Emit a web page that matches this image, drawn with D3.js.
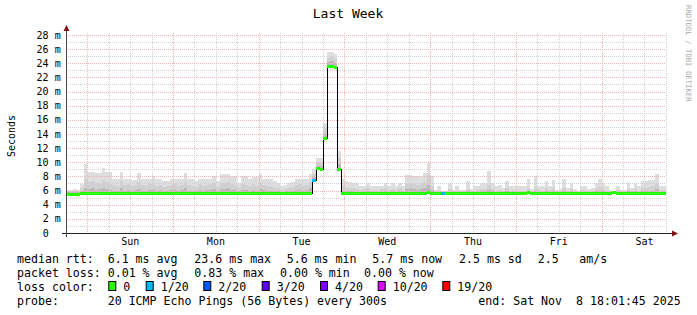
<!doctype html>
<html lang="en">
<head>
<meta charset="utf-8">
<style>
  body { margin: 0; background: #fff; }
  svg { display: block; }
  text { font-family: "DejaVu Sans Mono", monospace; fill: #000; }
</style>
</head>
<body>
<script src="https://d3js.org/d3.v7.min.js"></script>
<script>
// hourly bins, Sat Nov 1 18:01:45 -> Sat Nov 8 18:01:45 (ms)
var medianMs = [
  5.5,5.5,5.5,5.5,5.6,5.6,5.6,5.6,5.6,5.7, 5.6,5.6,5.6,5.6,5.6,5.6,5.6,5.6,5.6,5.6,
  5.6,5.6,5.6,5.6,5.6,5.6,5.6,5.7,5.6,5.6, 5.6,5.6,5.6,5.6,5.6,5.6,5.6,5.7,5.6,5.6,
  5.6,5.6,5.6,5.6,5.6,5.6,5.7,5.6,5.6,5.6, 5.6,5.6,5.6,5.6,5.6,5.6,5.6,5.7,5.7,5.6,
  5.6,5.7,5.7,5.6,5.6,5.6,5.6,5.6,5.6,7.5, 9.2,9.1,13.5,23.6,23.6,23.5,9.0,5.6,5.6,5.6,
  5.6,5.6,5.7,5.6,5.6,5.6,5.6,5.6,5.6,5.6, 5.6,5.6,5.6,5.7,5.6,5.6,5.6,5.6,5.6,5.6,
  5.6,5.8,5.6,5.6,5.6,5.6,5.6,5.6,5.6,5.6, 5.6,5.6,5.6,5.6,5.6,5.6,5.6,5.6,5.6,5.6,
  5.6,5.6,5.6,5.6,5.6,5.6,5.6,5.6,5.6,5.8, 5.6,5.6,5.6,5.6,5.6,5.6,5.6,5.6,5.6,5.6,
  5.6,5.6,5.6,5.6,5.6,5.6,5.6,5.6,5.6,5.6, 5.6,5.6,5.6,5.8,5.6,5.6,5.6,5.6,5.6,5.6,
  5.6,5.6,5.6,5.6,5.6,5.6,5.6,5.6
];
var smokeMax = [
  6.1,6.1,6.2,6.1,6.9,9.8,8.6,8.6,8.5,8.5, 9.2,8.6,8.6,7.7,7.7,8.6,7.7,7.6,7.5,7.5,
  8.5,7.6,7.6,7.6,8.1,7.6,7.6,7.3,7.3,7.6, 7.6,7.7,7.7,8.5,7.6,7.6,7.3,7.7,7.7,7.7,
  7.7,8.1,7.3,8.3,8.3,8.3,8.0,8.0,7.1,8.0, 8.0,7.6,7.9,7.9,8.3,7.7,7.6,7.6,7.3,7.1,
  6.6,6.8,7.0,7.2,7.7,7.7,7.7,7.7,8.3,9.0, 10.6,10.6,15.5,25.6,25.6,25.3,11.6,7.6,7.3,7.2,
  7.1,7.0,6.7,6.7,7.0,6.6,6.6,6.6,6.7,7.1, 6.7,7.0,6.7,7.1,6.6,8.2,8.2,8.1,8.0,8.0,
  8.5,9.9,8.0,6.1,6.6,6.0,6.0,7.1,6.1,6.6, 6.1,6.1,7.3,6.2,6.6,6.6,7.0,7.0,8.8,7.1,
  6.6,6.8,6.4,7.3,6.7,6.7,6.6,6.6,6.6,7.6, 6.2,8.0,6.7,6.7,7.3,6.7,7.5,6.1,6.2,7.6,
  6.4,7.0,6.2,6.0,6.7,6.7,6.2,6.3,7.0,7.6, 7.0,6.6,6.1,6.0,6.7,6.1,6.1,7.0,6.4,7.1,
  6.6,7.3,7.3,7.5,7.5,8.3,6.7,6.7
];
var smokeMid = [
  5.9,5.9,6.0,5.9,6.3,7.6,7.2,7.4,7.0,7.1, 7.5,7.2,6.9,6.8,6.6,7.3,6.8,6.9,6.6,6.8,
  7.2,6.8,6.6,6.9,7.0,6.7,6.8,6.5,6.6,6.8, 6.9,6.7,6.8,7.2,6.8,6.6,6.5,6.9,6.7,6.8,
  6.9,7.0,6.5,7.1,7.0,7.2,6.9,6.8,6.4,6.9, 6.8,6.6,6.9,6.7,7.0,6.8,6.6,6.7,6.4,6.3,
  6.1,6.2,6.3,6.5,6.8,6.9,6.7,6.8,7.2,8.3, 10.0,9.9,14.8,24.8,24.9,24.6,10.6,6.6,6.4,6.3,
  6.3,6.2,6.1,6.2,6.3,6.0,6.1,6.0,6.2,6.3, 6.1,6.2,6.1,6.3,6.0,6.9,7.1,6.9,6.8,7.0,
  7.2,8.2,6.7,5.9,6.0,5.9,5.9,6.2,5.9,6.0, 5.9,5.9,6.2,5.9,6.0,6.1,6.2,6.2,6.8,6.2,
  6.0,6.1,5.9,6.3,6.0,6.1,6.0,6.0,6.0,6.4, 5.9,6.5,6.1,6.0,6.3,6.1,6.4,5.9,5.9,6.4,
  6.0,6.2,5.9,5.8,6.1,6.0,5.9,5.9,6.2,6.5, 6.2,6.0,5.9,5.9,6.1,5.9,5.9,6.2,6.0,6.2,
  6.0,6.3,6.4,6.5,6.6,6.9,6.1,6.1
];
var smokeLow = [
  5.8,5.8,5.8,5.8,5.9,6.4,6.2,6.3,6.1,6.2, 6.3,6.2,6.1,6.0,6.0,6.3,6.0,6.1,6.0,6.1,
  6.2,6.0,6.0,6.1,6.2,6.0,6.1,5.9,6.0,6.1, 6.1,6.0,6.1,6.3,6.0,6.0,5.9,6.1,6.0,6.1,
  6.1,6.2,5.9,6.2,6.2,6.3,6.1,6.1,5.9,6.1, 6.1,6.0,6.1,6.0,6.2,6.1,6.0,6.0,5.9,5.9,
  5.8,5.9,5.9,6.0,6.1,6.1,6.0,6.1,6.3,7.9, 9.5,9.5,14.0,24.2,24.3,24.1,9.8,6.0,5.9,5.9,
  5.9,5.8,5.8,5.8,5.9,5.8,5.8,5.8,5.8,5.9, 5.8,5.9,5.8,5.9,5.8,6.2,6.3,6.2,6.1,6.2,
  6.3,6.8,6.1,5.8,5.8,5.8,5.8,5.8,5.8,5.8, 5.8,5.8,5.9,5.8,5.8,5.8,5.9,5.9,6.1,5.9,
  5.8,5.8,5.8,5.9,5.8,5.8,5.8,5.8,5.8,6.0, 5.8,6.0,5.8,5.8,5.9,5.8,5.9,5.8,5.8,5.9,
  5.8,5.9,5.8,5.8,5.8,5.8,5.8,5.8,5.9,6.0, 5.9,5.8,5.8,5.8,5.8,5.8,5.8,5.9,5.8,5.9,
  5.8,5.9,5.9,6.0,6.0,6.2,5.8,5.8
];
// bins with packet loss (count out of 20)
var lossBins = [69, 105];
var lossCount = [1, 1];

var lossSteps = [0, 1, 2, 3, 4, 10, 19];
var lossLabels = ["0", "1/20", "2/20", "3/20", "4/20", "10/20", "19/20"];
var lossColors = ["#26ff00", "#00b8ff", "#0059ff", "#5e00ff", "#7e00ff", "#dd00ff", "#ff0000"];

var yTicks = [0, 2, 4, 6, 8, 10, 12, 14, 16, 18, 20, 22, 24, 26, 28];

var rttStats = ["6.1 ms avg", "23.6 ms max", "5.6 ms min", "5.7 ms now", "2.5 ms sd", "2.5", "am/s"];
var lossStats = ["0.01 % avg", "0.83 % max", "0.00 % min", "0.00 % now"];
var probeText = "20 ICMP Echo Pings (56 Bytes) every 300s";
var endText = "end: Sat Nov  8 18:01:45 2025";

var width = 697, height = 315;
var t0 = Date.UTC(2025, 10, 1, 18, 1, 45), t1 = t0 + 7 * 864e5;
var hour = 3600e3;

var svg = d3.select("body").append("svg")
    .attr("width", width).attr("height", height);
svg.append("rect").attr("width", width).attr("height", height).attr("fill", "#fff");

var x = d3.scaleUtc().domain([t0, t1]).range([66, 666]);
var y = d3.scaleLinear().domain([0, 28.28]).range([233, 33]);

svg.append("clipPath").attr("id", "plot")
  .append("rect").attr("x", 66).attr("y", 33).attr("width", 600).attr("height", 200);

var bins = d3.range(medianMs.length + 1).map(function(i) {
  var k = Math.min(i, medianMs.length - 1);
  return { t: new Date(t0 + i * hour), med: medianMs[k], max: smokeMax[k], mid: smokeMid[k], low: smokeLow[k] };
});

var g = svg.append("g").attr("clip-path", "url(#plot)");

function smoke(key, color) {
  g.append("path")
    .datum(bins)
    .attr("fill", color)
    .attr("shape-rendering", "crispEdges")
    .attr("d", d3.area().curve(d3.curveStepAfter)
      .x(function(d) { return x(d.t); })
      .y0(function(d) { return y(d.med); })
      .y1(function(d) { return y(d[key]); }));
}
smoke("max", "#dedede");
smoke("mid", "#d0d0d0");
smoke("low", "#b9b9b9");

// grid
var grid = svg.append("g").attr("fill", "none").attr("stroke-dasharray", "1,1").attr("shape-rendering", "crispEdges");
var minorX = d3.utcHour.every(6).range(new Date(t0), new Date(t1)).filter(function(d) { return d.getUTCHours() !== 0; });
var majorX = d3.utcDay.range(new Date(t0), new Date(t1));
function px(v) { return Math.round(v) + 0.5; }
var minorCol = "#d2d2d2", majorCol = "#efb4b4";
grid.selectAll("line.mx").data(minorX).enter().append("line")
  .attr("x1", function(d) { return px(x(d)); }).attr("x2", function(d) { return px(x(d)); })
  .attr("y1", 33).attr("y2", 233).attr("stroke", minorCol);
d3.range(1, 29).filter(function(v) { return v % 2; }).forEach(function(v) {
  grid.append("line").attr("x1", 66).attr("x2", 666).attr("y1", px(y(v))).attr("y2", px(y(v))).attr("stroke", minorCol);
});
grid.selectAll("line.Mx").data(majorX).enter().append("line")
  .attr("x1", function(d) { return px(x(d)); }).attr("x2", function(d) { return px(x(d)); })
  .attr("y1", 33).attr("y2", 233).attr("stroke", majorCol);
yTicks.filter(function(v) { return v > 0; }).forEach(function(v) {
  grid.append("line").attr("x1", 66).attr("x2", 666).attr("y1", px(y(v))).attr("y2", px(y(v))).attr("stroke", majorCol);
});

// median line: thin black steps, then loss-coloured segments (above the grid)
var mg = svg.append("g").attr("clip-path", "url(#plot)");
mg.append("path").datum(bins)
  .attr("fill", "none").attr("stroke", "#000").attr("stroke-width", 1)
  .attr("shape-rendering", "crispEdges")
  .attr("d", d3.line().curve(d3.curveStepAfter)
    .x(function(d) { return px(x(d.t)); })
    .y(function(d) { return px(y(d.med)); }));

var lossColor = d3.scaleThreshold().domain(lossSteps.slice(1)).range(lossColors);
mg.selectAll("line.med").data(medianMs).enter().append("line")
  .attr("x1", function(d, i) { return x(t0 + i * hour); })
  .attr("x2", function(d, i) { return x(t0 + (i + 1) * hour); })
  .attr("y1", function(d) { return Math.round(y(d)); })
  .attr("y2", function(d) { return Math.round(y(d)); })
  .attr("stroke-width", 3)
  .attr("shape-rendering", "crispEdges")
  .attr("stroke", function(d, i) {
    var j = lossBins.indexOf(i);
    return lossColor(j < 0 ? 0 : lossCount[j]);
  });

// axes
svg.append("line").attr("x1", 62).attr("x2", 672).attr("y1", 233.5).attr("y2", 233.5).attr("stroke", "#222");
svg.append("line").attr("x1", 66.5).attr("x2", 66.5).attr("y1", 237).attr("y2", 30).attr("stroke", "#444");
svg.append("path").attr("d", "M672,230.5L678,233.5L672,236.5Z").attr("fill", "#7f1010");
svg.append("path").attr("d", "M63.5,31L66.5,25L69.5,31Z").attr("fill", "#7f1010");

svg.selectAll("text.yl").data(yTicks).enter().append("text")
  .attr("x", function(d) { return d === 0 ? 48.7 : 60.7; })
  .attr("y", function(d) { return y(d) + 3.6; })
  .attr("text-anchor", "end").attr("font-size", "10px")
  .text(function(d) { return d === 0 ? "0" : d + " m"; });

svg.selectAll("text.xl").data(majorX).enter().append("text")
  .attr("x", function(d) { return x(d3.utcHour.offset(d, 12)); })
  .attr("y", 244.5)
  .attr("text-anchor", "middle").attr("font-size", "10px")
  .text(d3.utcFormat("%a"));

svg.append("text").attr("x", 348).attr("y", 18).attr("text-anchor", "middle")
  .attr("font-size", "13px").text("Last Week");
svg.append("text").attr("transform", "translate(14.5,136) rotate(-90)")
  .attr("text-anchor", "middle").attr("font-size", "10px").text("Seconds");
svg.append("text").attr("transform", "translate(686,5) rotate(90)")
  .attr("font-size", "7.3px").style("fill", "#aaa").text("RRDTOOL / TOBI OETIKER");

// legend
var lg = svg.append("g").attr("font-size", "11.6px");
function ltext(s, xx, yy) {
  lg.append("text").attr("xml:space", "preserve").attr("x", xx).attr("y", yy).text(s);
}
var rowY = [263.3, 276.9, 290.7, 305];
ltext("median rtt:", 17, rowY[0]);
ltext("packet loss:", 17, rowY[1]);
ltext("loss color:", 17, rowY[2]);
ltext("probe:", 17, rowY[3]);
var rttX = [107.7, 194.3, 286.7, 372.3, 459, 537.7, 579.3];
rttStats.forEach(function(s, i) { ltext(s, rttX[i], rowY[0]); });
var lossX = [107.7, 194.3, 280, 364];
lossStats.forEach(function(s, i) { ltext(s, lossX[i], rowY[1]); });
var boxX = [108.3, 145.7, 203.3, 261.7, 320, 377.7, 442.3];
lossLabels.forEach(function(s, i) {
  lg.append("rect").attr("x", boxX[i] + 0.5).attr("y", 281.5).attr("width", 7).attr("height", 9)
    .attr("fill", lossColors[i]).attr("stroke", "#000");
  ltext(s, boxX[i] + 15, rowY[2]);
});
ltext(probeText, 107.7, rowY[3]);
ltext(endText, 478.3, rowY[3]);
</script>
</body>
</html>
